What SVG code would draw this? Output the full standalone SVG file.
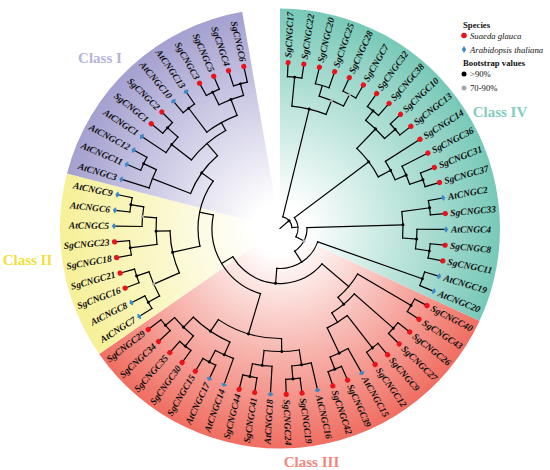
<svg xmlns="http://www.w3.org/2000/svg" xmlns:xlink="http://www.w3.org/1999/xlink" width="550" height="470" viewBox="0 0 550 470">
<defs>
<style>
.br{fill:none;stroke:#000;stroke-width:1.2;stroke-linecap:square}
.lf{font-family:"Liberation Serif","Times New Roman",serif;font-size:9.5px;font-weight:bold;font-style:italic;dominant-baseline:central;fill:#111}
.l{text-anchor:end}
.bk{fill:#000}
.gy{fill:#a8a8a8}
.cls{font-family:"Liberation Serif","Times New Roman",serif;font-size:15px;font-weight:bold;text-anchor:middle}
.lg{font-family:"Liberation Serif","Times New Roman",serif;font-size:8.7px;fill:#111}
.lgb{font-weight:bold}
.lgi{font-style:italic}
</style>
<radialGradient id="gT" gradientUnits="userSpaceOnUse" cx="0" cy="0" r="220"><stop offset="0" stop-color="#fff"/><stop offset="0.12" stop-color="#fff"/><stop offset="1" stop-color="#78c9b8"/></radialGradient>
<radialGradient id="gR" gradientUnits="userSpaceOnUse" cx="0" cy="0" r="220"><stop offset="0" stop-color="#fff"/><stop offset="0.12" stop-color="#fff"/><stop offset="1" stop-color="#f06e61"/></radialGradient>
<radialGradient id="gY" gradientUnits="userSpaceOnUse" cx="0" cy="0" r="220"><stop offset="0" stop-color="#fff"/><stop offset="0.12" stop-color="#fff"/><stop offset="1" stop-color="#f6f097"/></radialGradient>
<radialGradient id="gL" gradientUnits="userSpaceOnUse" cx="0" cy="0" r="220"><stop offset="0" stop-color="#fff"/><stop offset="0.12" stop-color="#fff"/><stop offset="1" stop-color="#a4a0d0"/></radialGradient>
<circle id="sgm" cx="166" r="2.6" fill="#e8131b"/>
<path id="atm" d="M163.8,0L166,-3.2L168.2,0L166,3.2Z" fill="#3d88c8"/>
</defs>
<rect width="550" height="470" fill="#fff"/>
<g transform="translate(280,228.5)">
<g id="sectors">
<path d="M0,0L0,-220A220,220 0 0 1 199.5,92.6Z" fill="url(#gT)"/>
<path d="M0,0L199.5,92.6A220,220 0 0 1 -180.8,125.4Z" fill="url(#gR)"/>
<path d="M0,0L-180.8,125.4A220,220 0 0 1 -213,-55.1Z" fill="url(#gY)"/>
<path d="M0,0L-213,-55.1A220,220 0 0 1 -37.8,-216.7Z" fill="url(#gL)"/>
</g>
<g id="connectors" class="br">
<line x2="12" transform="rotate(-40.45)"/>
<circle r="12" pathLength="360" stroke-dasharray="71.62 360" transform="rotate(-76.26)"/>
<line x1="12" x2="123" transform="rotate(-76.26)"/>
<line x1="12" x2="18" transform="rotate(-4.64)"/>
<circle r="18" pathLength="360" stroke-dasharray="64.605 360" transform="rotate(-36.945)"/>
<line x1="18" x2="111" transform="rotate(-36.945)"/>
<line x1="18" x2="27" transform="rotate(27.66)"/>
<circle r="123" pathLength="360" stroke-dasharray="16.41 360" transform="rotate(-84.465)"/>
<line x1="123" x2="152" transform="rotate(-84.465)"/>
<line x1="123" x2="138" transform="rotate(-68.055)"/>
<circle r="152" pathLength="360" stroke-dasharray="5.47 360" transform="rotate(-87.2)"/>
<line x1="152" x2="165" transform="rotate(-87.2)"/>
<line x1="152" x2="165" transform="rotate(-81.73)"/>
<circle r="138" pathLength="360" stroke-dasharray="10.94 360" transform="rotate(-73.525)"/>
<line x1="138" x2="149" transform="rotate(-73.525)"/>
<line x1="138" x2="151" transform="rotate(-62.585)"/>
<circle r="149" pathLength="360" stroke-dasharray="5.47 360" transform="rotate(-76.26)"/>
<line x1="149" x2="165" transform="rotate(-76.26)"/>
<line x1="149" x2="165" transform="rotate(-70.79)"/>
<circle r="151" pathLength="360" stroke-dasharray="5.47 360" transform="rotate(-65.32)"/>
<line x1="151" x2="165" transform="rotate(-65.32)"/>
<line x1="151" x2="165" transform="rotate(-59.85)"/>
<circle r="111" pathLength="360" stroke-dasharray="18.46 360" transform="rotate(-46.175)"/>
<line x1="111" x2="138" transform="rotate(-46.175)"/>
<line x1="111" x2="125" transform="rotate(-27.715)"/>
<circle r="138" pathLength="360" stroke-dasharray="10.94 360" transform="rotate(-51.645)"/>
<line x1="138" x2="150" transform="rotate(-51.645)"/>
<line x1="138" x2="152" transform="rotate(-40.705)"/>
<circle r="150" pathLength="360" stroke-dasharray="5.47 360" transform="rotate(-54.38)"/>
<line x1="150" x2="165" transform="rotate(-54.38)"/>
<line x1="150" x2="165" transform="rotate(-48.91)"/>
<circle r="152" pathLength="360" stroke-dasharray="5.47 360" transform="rotate(-43.44)"/>
<line x1="152" x2="165" transform="rotate(-43.44)"/>
<line x1="152" x2="165" transform="rotate(-37.97)"/>
<circle r="125" pathLength="360" stroke-dasharray="9.57 360" transform="rotate(-32.5)"/>
<line x1="125" x2="165" transform="rotate(-32.5)"/>
<line x1="125" x2="137" transform="rotate(-22.93)"/>
<circle r="137" pathLength="360" stroke-dasharray="8.205 360" transform="rotate(-27.03)"/>
<line x1="137" x2="165" transform="rotate(-27.03)"/>
<line x1="137" x2="151" transform="rotate(-18.825)"/>
<circle r="151" pathLength="360" stroke-dasharray="5.47 360" transform="rotate(-21.56)"/>
<line x1="151" x2="165" transform="rotate(-21.56)"/>
<line x1="151" x2="165" transform="rotate(-16.09)"/>
<circle r="27" pathLength="360" stroke-dasharray="58.75 360" transform="rotate(-1.72)"/>
<line x1="27" x2="123" transform="rotate(-1.72)"/>
<line x1="27" x2="40" transform="rotate(57.03)"/>
<circle r="123" pathLength="360" stroke-dasharray="12.305 360" transform="rotate(-7.875)"/>
<line x1="123" x2="151" transform="rotate(-7.875)"/>
<line x1="123" x2="137" transform="rotate(4.43)"/>
<circle r="151" pathLength="360" stroke-dasharray="5.47 360" transform="rotate(-10.62)"/>
<line x1="151" x2="165" transform="rotate(-10.62)"/>
<line x1="151" x2="165" transform="rotate(-5.15)"/>
<circle r="137" pathLength="360" stroke-dasharray="8.215 360" transform="rotate(0.32)"/>
<line x1="137" x2="165" transform="rotate(0.32)"/>
<line x1="137" x2="151" transform="rotate(8.535)"/>
<circle r="151" pathLength="360" stroke-dasharray="5.47 360" transform="rotate(5.79)"/>
<line x1="151" x2="165" transform="rotate(5.79)"/>
<line x1="151" x2="165" transform="rotate(11.26)"/>
<circle r="40" pathLength="360" stroke-dasharray="75.135 360" transform="rotate(19.465)"/>
<line x1="40" x2="151" transform="rotate(19.465)"/>
<line x1="40" x2="55" transform="rotate(94.6)"/>
<circle r="151" pathLength="360" stroke-dasharray="5.47 360" transform="rotate(16.73)"/>
<line x1="151" x2="165" transform="rotate(16.73)"/>
<line x1="151" x2="165" transform="rotate(22.2)"/>
<circle r="55" pathLength="360" stroke-dasharray="108.89 360" transform="rotate(40.15)"/>
<line x1="55" x2="90" transform="rotate(40.15)"/>
<line x1="55" x2="68" transform="rotate(149.04)"/>
<circle r="90" pathLength="360" stroke-dasharray="19.485 360" transform="rotate(30.405)"/>
<line x1="90" x2="152" transform="rotate(30.405)"/>
<line x1="90" x2="99" transform="rotate(49.89)"/>
<circle r="152" pathLength="360" stroke-dasharray="5.47 360" transform="rotate(27.67)"/>
<line x1="152" x2="165" transform="rotate(27.67)"/>
<line x1="152" x2="165" transform="rotate(33.14)"/>
<circle r="99" pathLength="360" stroke-dasharray="17.095 360" transform="rotate(41.345)"/>
<line x1="99" x2="151" transform="rotate(41.345)"/>
<line x1="99" x2="110" transform="rotate(58.44)"/>
<circle r="151" pathLength="360" stroke-dasharray="5.47 360" transform="rotate(38.61)"/>
<line x1="151" x2="165" transform="rotate(38.61)"/>
<line x1="151" x2="165" transform="rotate(44.08)"/>
<circle r="110" pathLength="360" stroke-dasharray="12.305 360" transform="rotate(52.285)"/>
<line x1="110" x2="151" transform="rotate(52.285)"/>
<line x1="110" x2="138" transform="rotate(64.59)"/>
<circle r="151" pathLength="360" stroke-dasharray="5.47 360" transform="rotate(49.55)"/>
<line x1="151" x2="165" transform="rotate(49.55)"/>
<line x1="151" x2="165" transform="rotate(55.02)"/>
<circle r="138" pathLength="360" stroke-dasharray="8.205 360" transform="rotate(60.49)"/>
<line x1="138" x2="165" transform="rotate(60.49)"/>
<line x1="138" x2="151" transform="rotate(68.695)"/>
<circle r="151" pathLength="360" stroke-dasharray="5.47 360" transform="rotate(65.96)"/>
<line x1="151" x2="165" transform="rotate(65.96)"/>
<line x1="151" x2="165" transform="rotate(71.43)"/>
<circle r="68" pathLength="360" stroke-dasharray="84.785 360" transform="rotate(106.645)"/>
<line x1="68" x2="110" transform="rotate(106.645)"/>
<line x1="68" x2="82" transform="rotate(191.43)"/>
<circle r="110" pathLength="360" stroke-dasharray="34.87 360" transform="rotate(89.21)"/>
<line x1="110" x2="123" transform="rotate(89.21)"/>
<line x1="110" x2="124" transform="rotate(124.08)"/>
<circle r="123" pathLength="360" stroke-dasharray="16.41 360" transform="rotate(81)"/>
<line x1="123" x2="138" transform="rotate(81)"/>
<line x1="123" x2="138" transform="rotate(97.41)"/>
<circle r="138" pathLength="360" stroke-dasharray="8.205 360" transform="rotate(76.9)"/>
<line x1="138" x2="165" transform="rotate(76.9)"/>
<line x1="138" x2="151" transform="rotate(85.105)"/>
<circle r="151" pathLength="360" stroke-dasharray="5.47 360" transform="rotate(82.37)"/>
<line x1="151" x2="165" transform="rotate(82.37)"/>
<line x1="151" x2="165" transform="rotate(87.84)"/>
<circle r="138" pathLength="360" stroke-dasharray="8.205 360" transform="rotate(93.31)"/>
<line x1="138" x2="165" transform="rotate(93.31)"/>
<line x1="138" x2="151" transform="rotate(101.515)"/>
<circle r="151" pathLength="360" stroke-dasharray="5.47 360" transform="rotate(98.78)"/>
<line x1="151" x2="165" transform="rotate(98.78)"/>
<line x1="151" x2="165" transform="rotate(104.25)"/>
<circle r="124" pathLength="360" stroke-dasharray="20.515 360" transform="rotate(113.82)"/>
<line x1="124" x2="138" transform="rotate(113.82)"/>
<line x1="124" x2="138" transform="rotate(134.335)"/>
<circle r="138" pathLength="360" stroke-dasharray="8.205 360" transform="rotate(109.72)"/>
<line x1="138" x2="165" transform="rotate(109.72)"/>
<line x1="138" x2="151" transform="rotate(117.925)"/>
<circle r="151" pathLength="360" stroke-dasharray="5.47 360" transform="rotate(115.19)"/>
<line x1="151" x2="165" transform="rotate(115.19)"/>
<line x1="151" x2="165" transform="rotate(120.66)"/>
<circle r="138" pathLength="360" stroke-dasharray="10.94 360" transform="rotate(128.865)"/>
<line x1="138" x2="151" transform="rotate(128.865)"/>
<line x1="138" x2="150" transform="rotate(139.805)"/>
<circle r="151" pathLength="360" stroke-dasharray="5.47 360" transform="rotate(126.13)"/>
<line x1="151" x2="165" transform="rotate(126.13)"/>
<line x1="151" x2="165" transform="rotate(131.6)"/>
<circle r="150" pathLength="360" stroke-dasharray="5.47 360" transform="rotate(137.07)"/>
<line x1="150" x2="165" transform="rotate(137.07)"/>
<line x1="150" x2="165" transform="rotate(142.54)"/>
<circle r="82" pathLength="360" stroke-dasharray="47.86 360" transform="rotate(167.5)"/>
<line x1="82" x2="110" transform="rotate(167.5)"/>
<line x1="82" x2="96" transform="rotate(215.36)"/>
<circle r="110" pathLength="360" stroke-dasharray="22.565 360" transform="rotate(156.215)"/>
<line x1="110" x2="138" transform="rotate(156.215)"/>
<line x1="110" x2="124" transform="rotate(178.78)"/>
<circle r="138" pathLength="360" stroke-dasharray="10.94 360" transform="rotate(150.745)"/>
<line x1="138" x2="151" transform="rotate(150.745)"/>
<line x1="138" x2="151" transform="rotate(161.685)"/>
<circle r="151" pathLength="360" stroke-dasharray="5.47 360" transform="rotate(148.01)"/>
<line x1="151" x2="165" transform="rotate(148.01)"/>
<line x1="151" x2="165" transform="rotate(153.48)"/>
<circle r="151" pathLength="360" stroke-dasharray="5.47 360" transform="rotate(158.95)"/>
<line x1="151" x2="165" transform="rotate(158.95)"/>
<line x1="151" x2="165" transform="rotate(164.42)"/>
<circle r="124" pathLength="360" stroke-dasharray="12.305 360" transform="rotate(172.625)"/>
<line x1="124" x2="151" transform="rotate(172.625)"/>
<line x1="124" x2="138" transform="rotate(184.93)"/>
<circle r="151" pathLength="360" stroke-dasharray="5.47 360" transform="rotate(169.89)"/>
<line x1="151" x2="165" transform="rotate(169.89)"/>
<line x1="151" x2="165" transform="rotate(175.36)"/>
<circle r="138" pathLength="360" stroke-dasharray="8.205 360" transform="rotate(180.83)"/>
<line x1="138" x2="165" transform="rotate(180.83)"/>
<line x1="138" x2="151" transform="rotate(189.035)"/>
<circle r="151" pathLength="360" stroke-dasharray="5.47 360" transform="rotate(186.3)"/>
<line x1="151" x2="165" transform="rotate(186.3)"/>
<line x1="151" x2="165" transform="rotate(191.77)"/>
<circle r="96" pathLength="360" stroke-dasharray="28.035 360" transform="rotate(201.34)"/>
<line x1="96" x2="137" transform="rotate(201.34)"/>
<line x1="96" x2="112" transform="rotate(229.375)"/>
<circle r="137" pathLength="360" stroke-dasharray="8.205 360" transform="rotate(197.24)"/>
<line x1="137" x2="165" transform="rotate(197.24)"/>
<line x1="137" x2="151" transform="rotate(205.445)"/>
<circle r="151" pathLength="360" stroke-dasharray="5.47 360" transform="rotate(202.71)"/>
<line x1="151" x2="165" transform="rotate(202.71)"/>
<line x1="151" x2="165" transform="rotate(208.18)"/>
<circle r="112" pathLength="360" stroke-dasharray="23.25 360" transform="rotate(217.75)"/>
<line x1="112" x2="137" transform="rotate(217.75)"/>
<line x1="112" x2="121" transform="rotate(241)"/>
<circle r="137" pathLength="360" stroke-dasharray="8.205 360" transform="rotate(213.65)"/>
<line x1="137" x2="165" transform="rotate(213.65)"/>
<line x1="137" x2="151" transform="rotate(221.855)"/>
<circle r="151" pathLength="360" stroke-dasharray="5.47 360" transform="rotate(219.12)"/>
<line x1="151" x2="165" transform="rotate(219.12)"/>
<line x1="151" x2="165" transform="rotate(224.59)"/>
<circle r="121" pathLength="360" stroke-dasharray="16.41 360" transform="rotate(232.795)"/>
<line x1="121" x2="151" transform="rotate(232.795)"/>
<line x1="121" x2="138" transform="rotate(249.205)"/>
<circle r="151" pathLength="360" stroke-dasharray="5.47 360" transform="rotate(230.06)"/>
<line x1="151" x2="165" transform="rotate(230.06)"/>
<line x1="151" x2="165" transform="rotate(235.53)"/>
<circle r="138" pathLength="360" stroke-dasharray="10.94 360" transform="rotate(243.735)"/>
<line x1="138" x2="152" transform="rotate(243.735)"/>
<line x1="138" x2="150" transform="rotate(254.675)"/>
<circle r="152" pathLength="360" stroke-dasharray="5.47 360" transform="rotate(241)"/>
<line x1="152" x2="165" transform="rotate(241)"/>
<line x1="152" x2="165" transform="rotate(246.47)"/>
<circle r="150" pathLength="360" stroke-dasharray="5.47 360" transform="rotate(251.94)"/>
<line x1="150" x2="165" transform="rotate(251.94)"/>
<line x1="150" x2="165" transform="rotate(257.41)"/>
</g>
<g id="bootstrap">
<circle class="bk" cx="12" r="1.5" transform="rotate(-40.45)"/>
<circle class="bk" cx="152" r="1.5" transform="rotate(-84.465)"/>
<circle class="bk" cx="123" r="1.5" transform="rotate(-76.26)"/>
<circle class="gy" cx="138" r="1.6" transform="rotate(-68.055)"/>
<circle class="gy" cx="151" r="1.6" transform="rotate(-62.585)"/>
<circle class="bk" cx="150" r="1.5" transform="rotate(-51.645)"/>
<circle class="bk" cx="152" r="1.5" transform="rotate(-40.705)"/>
<circle class="bk" cx="138" r="1.5" transform="rotate(-46.175)"/>
<circle class="bk" cx="151" r="1.5" transform="rotate(-18.825)"/>
<circle class="bk" cx="137" r="1.5" transform="rotate(-22.93)"/>
<circle class="bk" cx="125" r="1.5" transform="rotate(-27.715)"/>
<circle class="bk" cx="111" r="1.5" transform="rotate(-36.945)"/>
<circle class="bk" cx="151" r="1.5" transform="rotate(-7.875)"/>
<circle class="bk" cx="151" r="1.5" transform="rotate(8.535)"/>
<circle class="bk" cx="137" r="1.5" transform="rotate(4.43)"/>
<circle class="bk" cx="123" r="1.5" transform="rotate(-1.72)"/>
<circle class="bk" cx="151" r="1.5" transform="rotate(19.465)"/>
<circle class="gy" cx="27" r="1.6" transform="rotate(27.66)"/>
<circle class="bk" cx="55" r="1.5" transform="rotate(94.6)"/>
<circle class="bk" cx="152" r="1.5" transform="rotate(30.405)"/>
<circle class="bk" cx="151" r="1.5" transform="rotate(41.345)"/>
<circle class="bk" cx="151" r="1.5" transform="rotate(52.285)"/>
<circle class="bk" cx="138" r="1.5" transform="rotate(64.59)"/>
<circle class="bk" cx="151" r="1.5" transform="rotate(68.695)"/>
<circle class="bk" cx="99" r="1.5" transform="rotate(49.89)"/>
<circle class="bk" cx="151" r="1.5" transform="rotate(85.105)"/>
<circle class="bk" cx="138" r="1.5" transform="rotate(81)"/>
<circle class="bk" cx="151" r="1.5" transform="rotate(101.515)"/>
<circle class="bk" cx="138" r="1.5" transform="rotate(97.41)"/>
<circle class="bk" cx="123" r="1.5" transform="rotate(89.21)"/>
<circle class="bk" cx="110" r="1.5" transform="rotate(106.645)"/>
<circle class="bk" cx="151" r="1.5" transform="rotate(117.925)"/>
<circle class="bk" cx="138" r="1.5" transform="rotate(113.82)"/>
<circle class="bk" cx="151" r="1.5" transform="rotate(128.865)"/>
<circle class="bk" cx="150" r="1.5" transform="rotate(139.805)"/>
<circle class="bk" cx="138" r="1.5" transform="rotate(134.335)"/>
<circle class="bk" cx="124" r="1.5" transform="rotate(124.08)"/>
<circle class="bk" cx="110" r="1.5" transform="rotate(167.5)"/>
<circle class="gy" cx="138" r="1.6" transform="rotate(156.215)"/>
<circle class="bk" cx="151" r="1.5" transform="rotate(150.745)"/>
<circle class="bk" cx="151" r="1.5" transform="rotate(161.685)"/>
<circle class="bk" cx="151" r="1.5" transform="rotate(172.625)"/>
<circle class="bk" cx="124" r="1.5" transform="rotate(178.78)"/>
<circle class="gy" cx="138" r="1.6" transform="rotate(184.93)"/>
<circle class="bk" cx="151" r="1.5" transform="rotate(189.035)"/>
<circle class="bk" cx="96" r="1.5" transform="rotate(215.36)"/>
<circle class="bk" cx="151" r="1.5" transform="rotate(205.445)"/>
<circle class="bk" cx="151" r="1.5" transform="rotate(221.855)"/>
<circle class="bk" cx="137" r="1.5" transform="rotate(217.75)"/>
<circle class="bk" cx="151" r="1.5" transform="rotate(232.795)"/>
<circle class="bk" cx="152" r="1.5" transform="rotate(243.735)"/>
<circle class="bk" cx="150" r="1.5" transform="rotate(254.675)"/>
<circle class="bk" cx="138" r="1.5" transform="rotate(249.205)"/>
</g>
<g id="leaves">
<g id="SgCNGC17" transform="rotate(-87.2)"><use href="#sgm"/><text class="lf" x="171">SgCNGC17</text></g>
<g id="SgCNGC22" transform="rotate(-81.73)"><use href="#sgm"/><text class="lf" x="171">SgCNGC22</text></g>
<g id="SgCNGC20" transform="rotate(-76.26)"><use href="#sgm"/><text class="lf" x="171">SgCNGC20</text></g>
<g id="SgCNGC25" transform="rotate(-70.79)"><use href="#sgm"/><text class="lf" x="171">SgCNGC25</text></g>
<g id="SgCNGC28" transform="rotate(-65.32)"><use href="#sgm"/><text class="lf" x="171">SgCNGC28</text></g>
<g id="SgCNGC7" transform="rotate(-59.85)"><use href="#sgm"/><text class="lf" x="171">SgCNGC7</text></g>
<g id="SgCNGC32" transform="rotate(-54.38)"><use href="#sgm"/><text class="lf" x="171">SgCNGC32</text></g>
<g id="SgCNGC38" transform="rotate(-48.91)"><use href="#sgm"/><text class="lf" x="171">SgCNGC38</text></g>
<g id="SgCNGC10" transform="rotate(-43.44)"><use href="#sgm"/><text class="lf" x="171">SgCNGC10</text></g>
<g id="SgCNGC13" transform="rotate(-37.97)"><use href="#sgm"/><text class="lf" x="171">SgCNGC13</text></g>
<g id="SgCNGC14" transform="rotate(-32.5)"><use href="#sgm"/><text class="lf" x="171">SgCNGC14</text></g>
<g id="SgCNGC36" transform="rotate(-27.03)"><use href="#sgm"/><text class="lf" x="171">SgCNGC36</text></g>
<g id="SgCNGC31" transform="rotate(-21.56)"><use href="#sgm"/><text class="lf" x="171">SgCNGC31</text></g>
<g id="SgCNGC37" transform="rotate(-16.09)"><use href="#sgm"/><text class="lf" x="171">SgCNGC37</text></g>
<g id="AtCNGC2" transform="rotate(-10.62)"><use href="#atm"/><text class="lf" x="171">AtCNGC2</text></g>
<g id="SgCNGC33" transform="rotate(-5.15)"><use href="#sgm"/><text class="lf" x="171">SgCNGC33</text></g>
<g id="AtCNGC4" transform="rotate(0.32)"><use href="#atm"/><text class="lf" x="171">AtCNGC4</text></g>
<g id="SgCNGC8" transform="rotate(5.79)"><use href="#sgm"/><text class="lf" x="171">SgCNGC8</text></g>
<g id="SgCNGC11" transform="rotate(11.26)"><use href="#sgm"/><text class="lf" x="171">SgCNGC11</text></g>
<g id="AtCNGC19" transform="rotate(16.73)"><use href="#atm"/><text class="lf" x="171">AtCNGC19</text></g>
<g id="AtCNGC20" transform="rotate(22.2)"><use href="#atm"/><text class="lf" x="171">AtCNGC20</text></g>
<g id="SgCNGC40" transform="rotate(27.67)"><use href="#sgm"/><text class="lf" x="171">SgCNGC40</text></g>
<g id="SgCNGC43" transform="rotate(33.14)"><use href="#sgm"/><text class="lf" x="171">SgCNGC43</text></g>
<g id="SgCNGC26" transform="rotate(38.61)"><use href="#sgm"/><text class="lf" x="171">SgCNGC26</text></g>
<g id="SgCNGC27" transform="rotate(44.08)"><use href="#sgm"/><text class="lf" x="171">SgCNGC27</text></g>
<g id="SgCNGC9" transform="rotate(49.55)"><use href="#sgm"/><text class="lf" x="171">SgCNGC9</text></g>
<g id="SgCNGC12" transform="rotate(55.02)"><use href="#sgm"/><text class="lf" x="171">SgCNGC12</text></g>
<g id="AtCNGC15" transform="rotate(60.49)"><use href="#atm"/><text class="lf" x="171">AtCNGC15</text></g>
<g id="SgCNGC39" transform="rotate(65.96)"><use href="#sgm"/><text class="lf" x="171">SgCNGC39</text></g>
<g id="SgCNGC42" transform="rotate(71.43)"><use href="#sgm"/><text class="lf" x="171">SgCNGC42</text></g>
<g id="AtCNGC16" transform="rotate(76.9)"><use href="#atm"/><text class="lf" x="171">AtCNGC16</text></g>
<g id="SgCNGC19" transform="rotate(82.37)"><use href="#sgm"/><text class="lf" x="171">SgCNGC19</text></g>
<g id="SgCNGC24" transform="rotate(87.84)"><use href="#sgm"/><text class="lf" x="171">SgCNGC24</text></g>
<g id="AtCNGC18" transform="rotate(93.31)"><use href="#atm"/><text class="lf l" x="-171" transform="rotate(180)">AtCNGC18</text></g>
<g id="SgCNGC41" transform="rotate(98.78)"><use href="#sgm"/><text class="lf l" x="-171" transform="rotate(180)">SgCNGC41</text></g>
<g id="SgCNGC44" transform="rotate(104.25)"><use href="#sgm"/><text class="lf l" x="-171" transform="rotate(180)">SgCNGC44</text></g>
<g id="AtCNGC14" transform="rotate(109.72)"><use href="#atm"/><text class="lf l" x="-171" transform="rotate(180)">AtCNGC14</text></g>
<g id="AtCNGC17" transform="rotate(115.19)"><use href="#atm"/><text class="lf l" x="-171" transform="rotate(180)">AtCNGC17</text></g>
<g id="SgCNGC15" transform="rotate(120.66)"><use href="#sgm"/><text class="lf l" x="-171" transform="rotate(180)">SgCNGC15</text></g>
<g id="SgCNGC30" transform="rotate(126.13)"><use href="#sgm"/><text class="lf l" x="-171" transform="rotate(180)">SgCNGC30</text></g>
<g id="SgCNGC35" transform="rotate(131.6)"><use href="#sgm"/><text class="lf l" x="-171" transform="rotate(180)">SgCNGC35</text></g>
<g id="SgCNGC34" transform="rotate(137.07)"><use href="#sgm"/><text class="lf l" x="-171" transform="rotate(180)">SgCNGC34</text></g>
<g id="SgCNGC29" transform="rotate(142.54)"><use href="#sgm"/><text class="lf l" x="-171" transform="rotate(180)">SgCNGC29</text></g>
<g id="AtCNGC7" transform="rotate(148.01)"><use href="#atm"/><text class="lf l" x="-171" transform="rotate(180)">AtCNGC7</text></g>
<g id="AtCNGC8" transform="rotate(153.48)"><use href="#atm"/><text class="lf l" x="-171" transform="rotate(180)">AtCNGC8</text></g>
<g id="SgCNGC16" transform="rotate(158.95)"><use href="#sgm"/><text class="lf l" x="-171" transform="rotate(180)">SgCNGC16</text></g>
<g id="SgCNGC21" transform="rotate(164.42)"><use href="#sgm"/><text class="lf l" x="-171" transform="rotate(180)">SgCNGC21</text></g>
<g id="SgCNGC18" transform="rotate(169.89)"><use href="#sgm"/><text class="lf l" x="-171" transform="rotate(180)">SgCNGC18</text></g>
<g id="SgCNGC23" transform="rotate(175.36)"><use href="#sgm"/><text class="lf l" x="-171" transform="rotate(180)">SgCNGC23</text></g>
<g id="AtCNGC5" transform="rotate(180.83)"><use href="#atm"/><text class="lf l" x="-171" transform="rotate(180)">AtCNGC5</text></g>
<g id="AtCNGC6" transform="rotate(186.3)"><use href="#atm"/><text class="lf l" x="-171" transform="rotate(180)">AtCNGC6</text></g>
<g id="AtCNGC9" transform="rotate(191.77)"><use href="#atm"/><text class="lf l" x="-171" transform="rotate(180)">AtCNGC9</text></g>
<g id="AtCNGC3" transform="rotate(197.24)"><use href="#atm"/><text class="lf l" x="-171" transform="rotate(180)">AtCNGC3</text></g>
<g id="AtCNGC11" transform="rotate(202.71)"><use href="#atm"/><text class="lf l" x="-171" transform="rotate(180)">AtCNGC11</text></g>
<g id="AtCNGC12" transform="rotate(208.18)"><use href="#atm"/><text class="lf l" x="-171" transform="rotate(180)">AtCNGC12</text></g>
<g id="AtCNGC1" transform="rotate(213.65)"><use href="#atm"/><text class="lf l" x="-171" transform="rotate(180)">AtCNGC1</text></g>
<g id="SgCNGC1" transform="rotate(219.12)"><use href="#sgm"/><text class="lf l" x="-171" transform="rotate(180)">SgCNGC1</text></g>
<g id="SgCNGC2" transform="rotate(224.59)"><use href="#sgm"/><text class="lf l" x="-171" transform="rotate(180)">SgCNGC2</text></g>
<g id="AtCNGC10" transform="rotate(230.06)"><use href="#atm"/><text class="lf l" x="-171" transform="rotate(180)">AtCNGC10</text></g>
<g id="AtCNGC13" transform="rotate(235.53)"><use href="#atm"/><text class="lf l" x="-171" transform="rotate(180)">AtCNGC13</text></g>
<g id="SgCNGC3" transform="rotate(241)"><use href="#sgm"/><text class="lf l" x="-171" transform="rotate(180)">SgCNGC3</text></g>
<g id="SgCNGC5" transform="rotate(246.47)"><use href="#sgm"/><text class="lf l" x="-171" transform="rotate(180)">SgCNGC5</text></g>
<g id="SgCNGC4" transform="rotate(251.94)"><use href="#sgm"/><text class="lf l" x="-171" transform="rotate(180)">SgCNGC4</text></g>
<g id="SgCNGC6" transform="rotate(257.41)"><use href="#sgm"/><text class="lf l" x="-171" transform="rotate(180)">SgCNGC6</text></g>
</g>
</g>
<g id="class-labels">
<text class="cls" x="100" y="63" fill="#b6b3da">Class I</text>
<text class="cls" x="27.5" y="265" fill="#f2df3a">Class II</text>
<text class="cls" x="311.5" y="467" fill="#f2877b">Class III</text>
<text class="cls" x="500" y="117" fill="#82cdbe">Class IV</text>
</g>
<g id="legend">
<text class="lg lgb" x="463" y="28">Species</text>
<circle cx="464" cy="35.5" r="2.8" fill="#e8131b"/>
<text class="lg lgi" x="470" y="38.5">Suaeda glauca</text>
<path d="M461.8,49.5L464,46L466.2,49.5L464,53Z" fill="#3d88c8"/>
<text class="lg lgi" x="470" y="52.5">Arabidopsis thaliana</text>
<text class="lg lgb" x="463" y="66">Bootstrap values</text>
<circle cx="464" cy="74" r="2.5" fill="#000"/>
<text class="lg" x="470" y="77">&gt;90%</text>
<circle cx="464" cy="88" r="2.5" fill="#a8a8a8"/>
<text class="lg" x="470" y="91">70-90%</text>
</g>
</svg>
